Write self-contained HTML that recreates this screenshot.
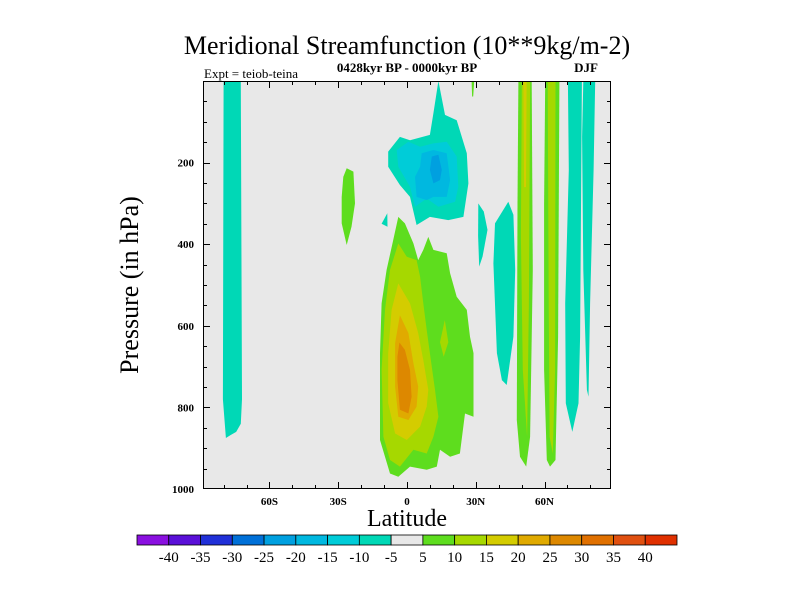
<!DOCTYPE html>
<html><head><meta charset="utf-8">
<style>
html,body{margin:0;padding:0;background:#fff;width:800px;height:600px;overflow:hidden}
svg text{font-family:"Liberation Serif",serif;fill:#000}
</style></head>
<body>
<svg id="chart" width="800" height="600" viewBox="0 0 800 600" xmlns="http://www.w3.org/2000/svg">
<text x="407" y="54" font-size="26" text-anchor="middle">Meridional Streamfunction (10**9kg/m-2)</text>
<text x="407" y="72" font-size="13" text-anchor="middle" font-weight="bold">0428kyr BP - 0000kyr BP</text>
<text x="204" y="78" font-size="13">Expt = teiob-teina</text>
<text x="598" y="72" font-size="13" text-anchor="end" font-weight="bold">DJF</text>
<rect x="203" y="81" width="408" height="408" fill="#e8e8e8"/>
<g id="contours"></g>
<g id="axes"></g>
<text x="0" y="0" font-size="26" text-anchor="middle" transform="translate(138,285) rotate(-90)">Pressure (in hPa)</text>
<text x="407" y="526" font-size="24" text-anchor="middle">Latitude</text>
<g id="colorbar"></g>
</svg>
<script>
// color levels
const levelValues = [-40,-35,-30,-25,-20,-15,-10,-5,5,10,15,20,25,30,35,40];
const levelColors = ["#8a10e0","#5a10d8","#2030d8","#0070d8","#00a0e0","#00b8e0","#00ccd8","#00d8b6","#e8e8e8","#5edd1e","#a6d800","#d4cc00","#e0aa00","#dd8800","#e07000","#e05010","#e03000"];
// y ticks (hPa) and x ticks (latitude)
const pressureTicks = [200,400,600,800,1000];
const latTicks = [-60,-30,0,30,60];
const latTickLabels = ["60S","30S","0","30N","60N"];
// contour regions: color index into levelColors, polygon of [lat, pressure]
const regionLevels = [7,7,6,5,4,9,7,9,10,11,12,13,10,7,7,9,10,11,9,10,7,7,9];
const regionShapes = [
 [[-80,0],[-72.5,0],[-72,780],[-72.5,840],[-74.5,860],[-77,868],[-79,875],[-80.3,780]],
 [[13.7,0],[16.6,83],[21.7,96],[26.1,177],[26.8,251],[24.6,333],[18,341],[10,333],[4.2,353],[1.3,284],[-3.1,255],[-8.2,210],[-8.2,173],[-3.1,137],[1.3,145],[10,132],[11.5,79]],
 [[-4.5,169],[0.6,149],[5.7,161],[11.5,153],[17.3,149],[21.7,185],[22.4,259],[21,296],[13.7,308],[8.6,288],[3.5,308],[1.3,259],[-3.8,210]],
 [[6.4,177],[11.5,169],[17.3,177],[18.8,243],[17.3,284],[11.5,284],[8.6,292],[4.2,284],[3.5,235],[5.7,210]],
 [[10.8,185],[13.7,181],[15.2,218],[14.4,243],[11.5,251],[10,218]],
 [[-26.3,214],[-23.4,222],[-22.7,300],[-24.2,357],[-26.3,402],[-28.5,349],[-28.5,284],[-27.8,235]],
 [[-8.6,324],[-8.5,357],[-11.1,350]],
 [[-3.8,333],[-0.9,349],[2.8,398],[4.9,439],[7.1,414],[9.3,382],[11.5,414],[17.3,422],[18.8,471],[21.7,529],[26.1,561],[27.5,627],[29,667],[29,823],[25.3,815],[23.1,913],[18.8,921],[14.4,904],[13,945],[8.6,953],[1.3,945],[-3.8,970],[-7.4,962],[-11.8,880],[-11.8,667],[-11.1,545],[-8.9,463],[-6,390]],
 [[-3.8,398],[-0.1,431],[4.2,439],[5.7,480],[7.1,545],[8.6,610],[10,667],[12.2,757],[13.7,823],[11.5,872],[8.6,913],[2.8,904],[-3.1,945],[-7.4,929],[-10.3,872],[-11.1,708],[-9.6,561],[-7.4,463]],
 [[-3.8,496],[1.3,545],[4.9,618],[7.1,684],[9.3,757],[8.6,798],[5.7,847],[-0.1,880],[-5.2,864],[-8.2,790],[-8.2,667],[-6.7,561]],
 [[-3.1,574],[0.6,618],[2.8,692],[4.9,749],[4.2,798],[0.6,831],[-3.8,823],[-5.2,749],[-5.2,643]],
 [[-3.3,641],[-0.9,659],[1.3,708],[2.0,774],[0.6,815],[-3.1,806],[-4.2,733],[-4.2,676]],
 [[16.5,586],[18,640],[16,676],[14.4,640]],
 [[31.1,300],[33.5,320],[35.1,365],[33,430],[31.5,455],[31,380]],
 [[44.2,296],[46.4,328],[47.2,463],[46.4,627],[43.5,745],[41.4,733],[39.2,667],[37.7,447],[38.4,349]],
 [[48.6,0],[54.4,0],[54.9,463],[53.7,872],[52,945],[49.3,921],[47.9,831],[48.2,300]],
 [[50.1,0],[53.7,0],[53.2,545],[52.4,872],[50.5,708],[49.7,382]],
 [[50.8,0],[52.2,0],[51.9,260],[51.1,260]],
 [[60.3,0],[66.5,0],[65.9,627],[64.8,929],[62.4,945],[61,929],[59.8,708],[59.8,300]],
 [[61.4,0],[64.8,0],[64.6,708],[63.6,913],[62.2,872],[61.8,545]],
 [[70.2,0],[76.3,0],[75.5,627],[74.8,790],[72.1,860],[69.3,790],[69,545],[70.6,218]],
 [[76.9,0],[82.1,0],[81.4,218],[79.9,545],[79.2,774],[78.5,757],[76.9,463],[76.4,137]],
 [[28.2,0],[29.3,0],[28.9,38],[28.4,38]]
];
const NS="http://www.w3.org/2000/svg";
const X0=203,X1=611,Y0=81,Y1=489;
function xScale(lat){return X0+(lat+89)/178*(X1-X0);}
function yScale(p){return Y0+p/1000*(Y1-Y0);}
const cg=document.getElementById('contours');
regionShapes.forEach((shape,i)=>{
  const poly=document.createElementNS(NS,'polygon');
  poly.setAttribute('points',shape.map(pt=>xScale(pt[0]).toFixed(1)+','+yScale(pt[1]).toFixed(1)).join(' '));
  poly.setAttribute('fill',levelColors[regionLevels[i]]);
  
  
  cg.appendChild(poly);
});
const ag=document.getElementById('axes');
function line(x1,y1,x2,y2,name){
  const l=document.createElementNS(NS,'line');
  l.setAttribute('x1',x1);l.setAttribute('y1',y1);l.setAttribute('x2',x2);l.setAttribute('y2',y2);
  l.setAttribute('stroke','#000');l.setAttribute('stroke-width','1');
  
  
  ag.appendChild(l);
}
function txt(x,y,s,anchor,size,name,parent){
  const t=document.createElementNS(NS,'text');
  t.setAttribute('x',x);t.setAttribute('y',y);t.setAttribute('text-anchor',anchor);
  t.setAttribute('font-size',size);t.setAttribute('font-weight','bold');
  t.textContent=s;
  
  
  (parent||ag).appendChild(t);
}
const frame=document.createElementNS(NS,'rect');
frame.setAttribute('x',X0+0.5);frame.setAttribute('y',Y0+0.5);frame.setAttribute('width',X1-X0-1);frame.setAttribute('height',Y1-Y0-1);
frame.setAttribute('fill','none');frame.setAttribute('stroke','#000');


ag.appendChild(frame);
for(let p=50;p<1000;p+=50){
  const y=Math.round(yScale(p))+0.5, major=p%200===0, len=major?7:4;
  line(X0,y,X0+len,y,'y-tick');line(X1-len,y,X1,y,'y-tick-right');
}
pressureTicks.forEach(p=>{txt(194,yScale(p)+4,String(p),'end',11,'y-tick-label');});
for(let lat=-80;lat<=80;lat+=10){
  const x=Math.round(xScale(lat))+0.5, major=lat%30===0, len=major?7:4;
  line(x,Y1-len,x,Y1,'x-tick');line(x,Y0,x,Y0+len,'x-tick-top');
}
latTicks.forEach((lat,i)=>{txt(xScale(lat),505,latTickLabels[i],'middle',11,'x-tick-label');});
const cb=document.getElementById('colorbar');
const CB0=137,CB1=677,n=levelColors.length,w=(CB1-CB0)/n;
levelColors.forEach((c,i)=>{
  const r=document.createElementNS(NS,'rect');
  r.setAttribute('x',CB0+i*w);r.setAttribute('y',535);r.setAttribute('width',w);r.setAttribute('height',10);
  r.setAttribute('fill',c);r.setAttribute('stroke','#000');r.setAttribute('stroke-width','0.8');
  
  
  cb.appendChild(r);
});
levelValues.forEach((v,i)=>{txt(CB0+(i+1)*w,562,String(v),'middle',15,'colorbar-label',cb);});
cb.querySelectorAll('text').forEach(t=>t.setAttribute('font-weight','normal'));
</script>
</body></html>
